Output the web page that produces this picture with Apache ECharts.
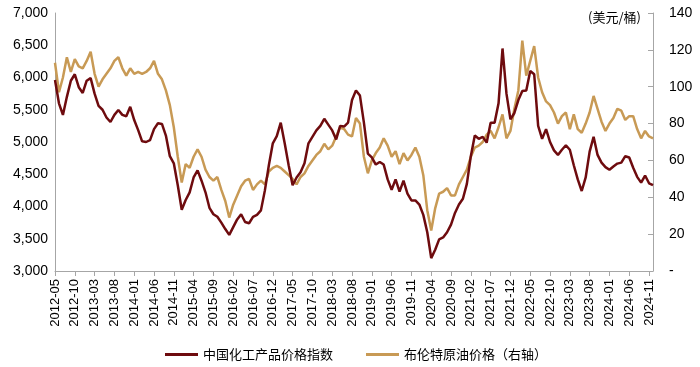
<!DOCTYPE html>
<html>
<head>
<meta charset="utf-8">
<script src="https://cdn.jsdelivr.net/npm/echarts@6/dist/echarts.min.js"></script>
<style>
html,body{margin:0;padding:0;background:#fff;}
#chart{width:700px;height:367px;}
</style>
</head>
<body>
<div id="chart"></div>
<script>
// Monthly categories 2012-05 .. 2024-12
const months = [];
for (let y = 2012; y <= 2024; y++) {
  for (let m = 1; m <= 12; m++) {
    if (y === 2012 && m < 5) continue;
    months.push(y + '-' + (m < 10 ? '0' + m : '' + m));
  }
}

const seriesNames = ['中国化工产品价格指数', '布伦特原油价格（右轴）'];

// 中国化工产品价格指数 (left axis)
const chemIndex = [
  5960,5600,5420,5700,5950,6050,5850,5760,
  5950,5990,5750,5560,5500,5380,5310,5420,5495,5420,5400,5546,
  5340,5184,5010,5000,5030,5200,5290,5280,5100,4780,4670,4330,
  3950,4100,4220,4450,4560,4400,4220,3980,3880,3840,3750,3650,
  3560,3680,3800,3880,3760,3740,3840,3870,3940,4250,4640,4980,
  5090,5300,4980,4640,4330,4450,4530,4670,4980,5080,5180,5250,
  5360,5270,5180,5040,5250,5240,5300,5650,5800,5720,5300,4820,
  4760,4650,4690,4650,4420,4260,4420,4230,4400,4200,4094,4094,
  4030,3870,3600,3200,3330,3490,3520,3600,3720,3900,4030,4120,
  4350,4780,5100,5050,5080,4990,5300,5300,5600,6450,5750,5350,
  5450,5650,5790,5800,6100,6050,5250,5050,5200,5000,4870,4800,
  4880,4950,4880,4640,4420,4240,4450,4850,5080,4800,4680,4610,
  4570,4620,4665,4680,4780,4760,4600,4460,4370,4480,4360,4330
];

// 布伦特原油价格 (right axis, 美元/桶)
const brent = [
  113,97,105,116,108,115,111,110,
  114,119,107,100,104,107,110,114,116,110,106,110,
  107,108,107,108,110,114,107,104,98,90,78,62,
  48,58,56,62,66,62,55,51,49,51,44,38,
  29,36,41,46,49,50,44,47,49,47,54,56,
  57,56,54,52,50,47,51,53,57,60,63,65,
  69,66,68,73,78,77,74,73,83,80,62,53,
  60,64,67,72,68,62,65,58,64,60,63,67,
  62,52,33,22,34,42,43,45,41,41,47,51,
  55,62,67,68,70,74,76,72,78,85,72,76,
  88,98,125,106,114,122,105,97,92,90,86,80,
  84,86,77,85,77,75,80,86,95,88,81,76,
  80,83,88,87,82,84,84,77,72,76,73,72
];

const leftTicks = {min: 3000, max: 7000, interval: 500};
const rightTicks = {min: 0, max: 140, interval: 20};
const rightUnit = '(美元/桶)';

const chart = echarts.init(document.getElementById('chart'), null, {renderer: 'canvas'});
const axisGray = '#A6A6A6';
const numFont = 'Liberation Sans, Arial, sans-serif';
const cjkFont = 'Noto Sans CJK SC, sans-serif';

chart.setOption({
  animation: false,
  backgroundColor: '#fff',
  grid: {left: 55, right: 47, top: 13, bottom: 96, containLabel: false},
  legend: {
    data: seriesNames,
    left: 160,
    top: 343,
    icon: 'rect',
    itemWidth: 33,
    itemHeight: 3,
    itemGap: 33,
    textStyle: {fontSize: 13, color: '#000', fontFamily: cjkFont}
  },
  xAxis: {
    type: 'category',
    data: months,
    boundaryGap: false,
    axisLine: {show: true, lineStyle: {color: axisGray, width: 1}},
    axisTick: {show: true, interval: 4, length: 5, lineStyle: {color: axisGray}},
    axisLabel: {interval: 4, rotate: 90, fontSize: 13, color: '#000', margin: 8, fontFamily: numFont},
    splitLine: {show: false}
  },
  yAxis: [
    {
      type: 'value',
      min: leftTicks.min, max: leftTicks.max, interval: leftTicks.interval,
      axisLine: {show: true, lineStyle: {color: axisGray}},
      axisTick: {show: false},
      splitLine: {show: false},
      axisLabel: {
        fontSize: 14, color: '#000', margin: 7, fontFamily: numFont,
        formatter: v => v.toLocaleString('en-US')
      }
    },
    {
      type: 'value',
      position: 'right',
      min: rightTicks.min, max: rightTicks.max, interval: rightTicks.interval,
      name: rightUnit,
      nameLocation: 'end',
      nameGap: -4,
      nameTextStyle: {fontSize: 13, color: '#000', align: 'right', verticalAlign: 'middle', padding: [0, 12, 0, 0], fontFamily: cjkFont},
      axisLine: {show: true, lineStyle: {color: axisGray}},
      axisTick: {show: true, inside: true, length: 5, lineStyle: {color: axisGray}},
      splitLine: {show: false},
      axisLabel: {
        fontSize: 14, color: '#000', margin: 16, fontFamily: numFont,
        formatter: v => (v === 0 ? '-' : String(v))
      }
    }
  ],
  series: [
    {
      name: seriesNames[1],
      type: 'line',
      yAxisIndex: 1,
      data: brent,
      showSymbol: false,
      lineStyle: {color: '#C89A55', width: 2.5},
      itemStyle: {color: '#C89A55'}
    },
    {
      name: seriesNames[0],
      type: 'line',
      yAxisIndex: 0,
      data: chemIndex,
      showSymbol: false,
      lineStyle: {color: '#6E0B0E', width: 2.5},
      itemStyle: {color: '#6E0B0E'}
    }
  ]
});
</script>
</body>
</html>
